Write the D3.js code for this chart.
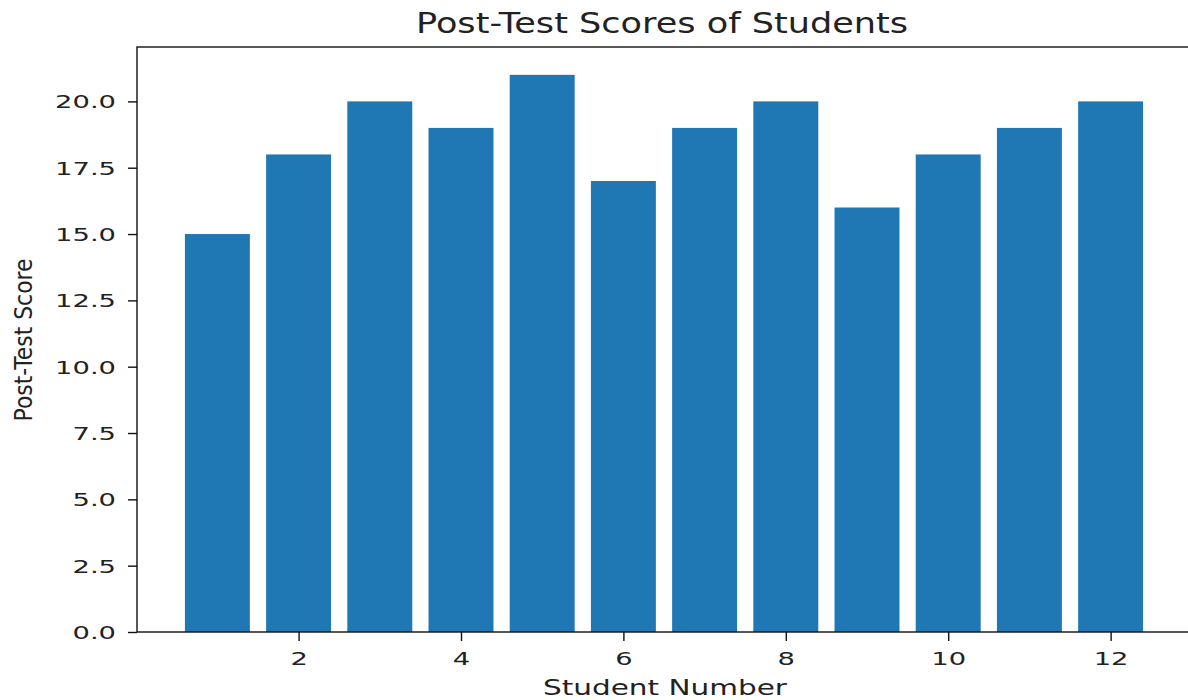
<!DOCTYPE html>
<html>
<head>
<meta charset="utf-8">
<script src="https://cdn.jsdelivr.net/npm/d3@7"></script>
<style>
  body { margin: 0; background: #fff; }
  svg { display: block; overflow: hidden; }
  text { font-family: "DejaVu Sans", sans-serif; fill: #222; }
</style>
</head>
<body>
<div id="chart"></div>
<script>
// data
var students = [1, 2, 3, 4, 5, 6, 7, 8, 9, 10, 11, 12]
var scores = [15, 18, 20, 19, 21, 17, 19, 20, 16, 18, 19, 20]
var xTicks = [2, 4, 6, 8, 10, 12]
var yTicks = [0, 2.5, 5, 7.5, 10, 12.5, 15, 17.5, 20]

var W = 1188, H = 700
// the picture is stretched sideways, so text gets stretched too
var stretch = 1.52

var svg = d3.select("#chart").append("svg")
    .attr("width", W)
    .attr("height", H)

var x = d3.scaleLinear().domain([0.01, 12.99]).range([137, 1191])
var y = d3.scaleLinear().domain([0, 22.05]).range([632, 47])

// bars
svg.selectAll("rect.bar")
    .data(students)
    .enter()
    .append("rect")
    .attr("class", "bar")
    .attr("x", d => x(d - 0.4))
    .attr("width", d => x(d + 0.4) - x(d - 0.4))
    .attr("y", (d, i) => y(scores[i]))
    .attr("height", (d, i) => y(0) - y(scores[i]))
    .attr("fill", "#1f77b4")

// frame
svg.append("rect")
    .attr("x", x.range()[0])
    .attr("y", y.range()[1])
    .attr("width", x.range()[1] - x.range()[0])
    .attr("height", y.range()[0] - y.range()[1])
    .attr("fill", "none")
    .attr("stroke", "#111")
    .attr("stroke-width", 1.4)

// axes
var xAxis = svg.append("g")
    .attr("transform", "translate(0," + y(0) + ")")
    .call(d3.axisBottom(x).tickValues(xTicks).tickSize(9).tickPadding(10).tickFormat(d3.format("d")))
var yAxis = svg.append("g")
    .attr("transform", "translate(" + x.range()[0] + ",0)")
    .call(d3.axisLeft(y).tickValues(yTicks).tickSize(9).tickPadding(12).tickFormat(d3.format(".1f")))

;[xAxis, yAxis].forEach(function(a) {
    a.select(".domain").remove()
    a.selectAll(".tick line").attr("stroke", "#111").attr("stroke-width", 1.4)
    a.selectAll(".tick text")
        .style("font-family", "DejaVu Sans")
        .style("font-size", "18px")
        .attr("fill", "#222")
        .each(function() {
            var w = this.getComputedTextLength()
            d3.select(this).attr("textLength", w * stretch).attr("lengthAdjust", "spacingAndGlyphs")
        })
})
xAxis.selectAll(".tick text").attr("dy", "0.75em")
yAxis.selectAll(".tick text").attr("dy", "0.36em")

// title and labels
svg.append("text")
    .attr("x", 662)
    .attr("y", 33)
    .attr("text-anchor", "middle")
    .style("font-size", "28px")
    .attr("textLength", 492)
    .attr("lengthAdjust", "spacingAndGlyphs")
    .text("Post-Test Scores of Students")

svg.append("text")
    .attr("x", 665)
    .attr("y", 695)
    .attr("text-anchor", "middle")
    .style("font-size", "22px")
    .attr("textLength", 244)
    .attr("lengthAdjust", "spacingAndGlyphs")
    .text("Student Number")

svg.append("text")
    .attr("transform", "translate(32,340) rotate(-90)")
    .attr("text-anchor", "middle")
    .style("font-size", "24px")
    .attr("textLength", 163)
    .attr("lengthAdjust", "spacingAndGlyphs")
    .text("Post-Test Score")
</script>
</body>
</html>
